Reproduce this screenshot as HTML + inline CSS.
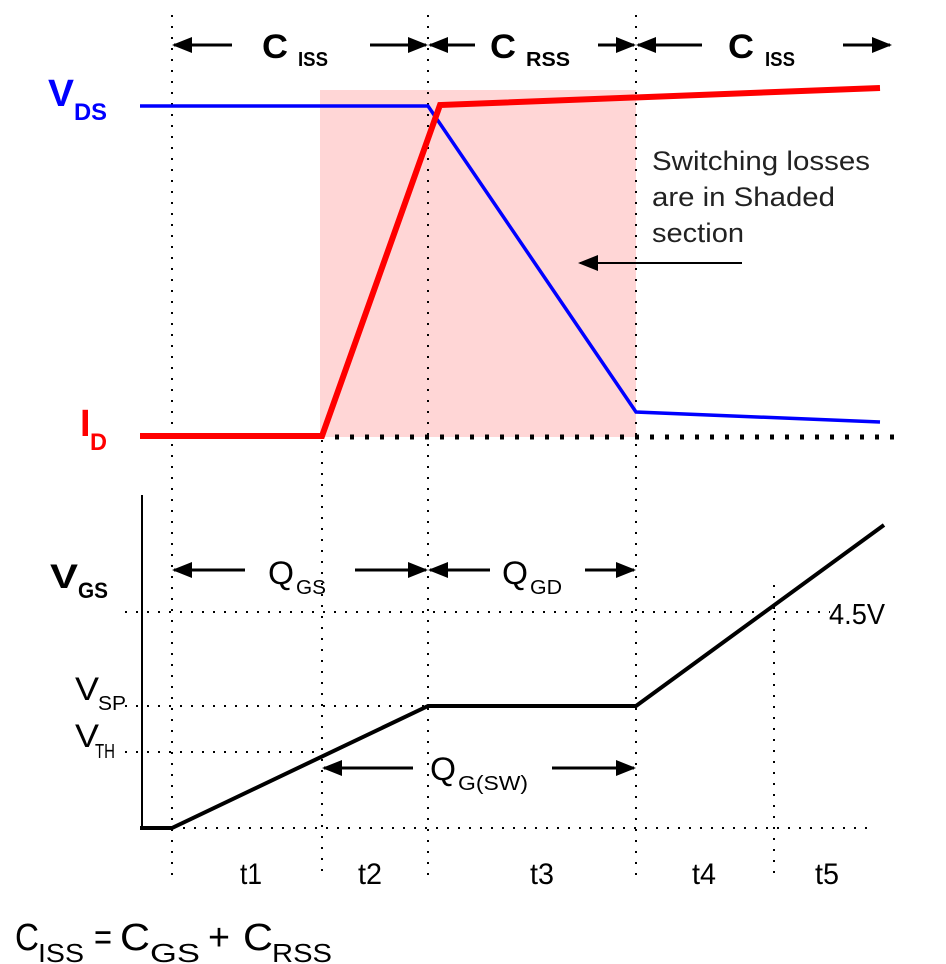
<!DOCTYPE html>
<html><head><style>body{margin:0;background:#fff}svg{display:block}</style></head><body>
<svg width="946" height="964" viewBox="0 0 946 964" xmlns="http://www.w3.org/2000/svg" font-family="Liberation Sans, sans-serif">
<defs>
<marker id="ah2" viewBox="0 0 10 10" markerWidth="20" markerHeight="16" refX="9" refY="5" orient="auto" markerUnits="userSpaceOnUse" preserveAspectRatio="none"><path d="M0,0 L10,5 L0,10z" fill="#000"/></marker></defs>
<rect x="320" y="90" width="316" height="347" fill="#ffd6d6"/>
<g stroke="#000" stroke-width="2" stroke-dasharray="2,9" fill="none">
<line x1="172" y1="15" x2="172" y2="880"/>
<line x1="428" y1="15" x2="428" y2="880"/>
<line x1="636" y1="15" x2="636" y2="880"/>
<line x1="322" y1="440" x2="322" y2="880"/>
<line x1="774" y1="585" x2="774" y2="880"/>
<line x1="125" y1="612" x2="830" y2="612"/>
<line x1="125" y1="706" x2="636" y2="706"/>
<line x1="125" y1="752" x2="322" y2="752"/>
<line x1="172" y1="828" x2="875" y2="828"/>
</g>
<line x1="335" y1="437" x2="895" y2="437" stroke="#000" stroke-width="5" stroke-dasharray="4,11"/>
<g stroke="#000" stroke-width="3" marker-end="url(#ah2)">
<line x1="232" y1="45" x2="174" y2="45"/><line x1="370" y1="45" x2="426" y2="45"/>
<line x1="475" y1="45" x2="430" y2="45"/><line x1="598" y1="45" x2="634" y2="45"/>
<line x1="702" y1="45" x2="638" y2="45"/><line x1="843" y1="45" x2="890" y2="45"/>
<line x1="742" y1="263" x2="580" y2="263" stroke-width="2"/>
<line x1="245" y1="570" x2="174" y2="570"/><line x1="355" y1="570" x2="426" y2="570"/>
<line x1="490" y1="570" x2="430" y2="570"/><line x1="585" y1="570" x2="634" y2="570"/>
<line x1="413" y1="768" x2="324" y2="768"/><line x1="552" y1="768" x2="634" y2="768"/>
</g>
<polyline points="140,106 428,106 636,412 880,422" fill="none" stroke="#0000ff" stroke-width="3.5"/>
<polyline points="140,436 322,436 440,105 880,88" fill="none" stroke="#ff0000" stroke-width="6"/>
<line x1="142" y1="495" x2="142" y2="828" stroke="#000" stroke-width="2"/>
<polyline points="140,828 172,828 428,706 636,706 884,525" fill="none" stroke="#000" stroke-width="4"/>
<g font-weight="bold">
<text x="262" y="58" font-size="34" textLength="26" lengthAdjust="spacingAndGlyphs">C</text><text x="298" y="66" font-size="20" textLength="30" lengthAdjust="spacingAndGlyphs">ISS</text>
<text x="490" y="58" font-size="34" textLength="26" lengthAdjust="spacingAndGlyphs">C</text><text x="526" y="66" font-size="20" textLength="44" lengthAdjust="spacingAndGlyphs">RSS</text>
<text x="728" y="58" font-size="34" textLength="26" lengthAdjust="spacingAndGlyphs">C</text><text x="765" y="66" font-size="20" textLength="30" lengthAdjust="spacingAndGlyphs">ISS</text>
<text x="48" y="106" font-size="38" fill="#0000ff" textLength="26" lengthAdjust="spacingAndGlyphs">V</text><text x="74" y="120" font-size="24" fill="#0000ff" textLength="33" lengthAdjust="spacingAndGlyphs">DS</text>
<text x="80" y="436" font-size="38" fill="#ff0000">I</text><text x="90" y="450" font-size="24" fill="#ff0000" textLength="17" lengthAdjust="spacingAndGlyphs">D</text>
<text x="50" y="588" font-size="34" textLength="28" lengthAdjust="spacingAndGlyphs">V</text><text x="78" y="598" font-size="22" textLength="30" lengthAdjust="spacingAndGlyphs">GS</text>
</g>
<g font-size="27" fill="#222">
<text x="652" y="170" textLength="218" lengthAdjust="spacingAndGlyphs">Switching losses</text>
<text x="652" y="206" textLength="183" lengthAdjust="spacingAndGlyphs">are in Shaded</text>
<text x="652" y="242" textLength="92" lengthAdjust="spacingAndGlyphs">section</text>
</g>
<g font-size="32">
<text x="268" y="584" textLength="26" lengthAdjust="spacingAndGlyphs">Q</text><text x="296" y="594" font-size="20" textLength="30" lengthAdjust="spacingAndGlyphs">GS</text>
<text x="502" y="584" textLength="26" lengthAdjust="spacingAndGlyphs">Q</text><text x="530" y="594" font-size="20" textLength="32" lengthAdjust="spacingAndGlyphs">GD</text>
<text x="430" y="780" textLength="26" lengthAdjust="spacingAndGlyphs">Q</text><text x="458" y="790" font-size="20" textLength="70" lengthAdjust="spacingAndGlyphs">G(SW)</text>
<text x="75" y="700" textLength="24" lengthAdjust="spacingAndGlyphs">V</text><text x="98" y="710" font-size="20" textLength="28" lengthAdjust="spacingAndGlyphs">SP</text>
<text x="75" y="747" textLength="24" lengthAdjust="spacingAndGlyphs">V</text><text x="95" y="758" font-size="20" textLength="20" lengthAdjust="spacingAndGlyphs">TH</text>
<text x="829" y="624" font-size="29" textLength="56" lengthAdjust="spacingAndGlyphs">4.5V</text>
<text x="240" y="884" font-size="30" textLength="22" lengthAdjust="spacingAndGlyphs">t1</text><text x="358" y="884" font-size="30" textLength="24" lengthAdjust="spacingAndGlyphs">t2</text>
<text x="530" y="884" font-size="30" textLength="24" lengthAdjust="spacingAndGlyphs">t3</text><text x="692" y="884" font-size="30" textLength="24" lengthAdjust="spacingAndGlyphs">t4</text><text x="815" y="884" font-size="30" textLength="24" lengthAdjust="spacingAndGlyphs">t5</text>
<text x="15" y="950" font-size="38" textLength="24" lengthAdjust="spacingAndGlyphs">C</text><text x="38" y="962" font-size="26" textLength="46" lengthAdjust="spacingAndGlyphs">ISS</text>
<text x="94" y="950" font-size="38" textLength="18" lengthAdjust="spacingAndGlyphs">=</text>
<text x="120" y="950" font-size="38" textLength="30" lengthAdjust="spacingAndGlyphs">C</text><text x="150" y="962" font-size="26" textLength="50" lengthAdjust="spacingAndGlyphs">GS</text>
<text x="208" y="950" font-size="38" textLength="22" lengthAdjust="spacingAndGlyphs">+</text>
<text x="243" y="950" font-size="38" textLength="30" lengthAdjust="spacingAndGlyphs">C</text><text x="272" y="962" font-size="26" textLength="60" lengthAdjust="spacingAndGlyphs">RSS</text>
</g>
</svg>
</body></html>
